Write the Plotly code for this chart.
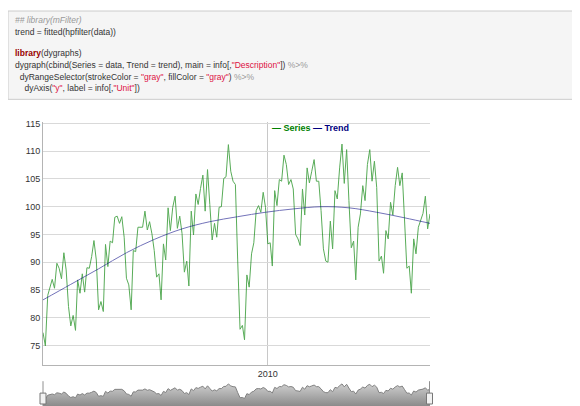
"""
dygraph görünümü: Series + HP trend, altta aralık seçici
"""

import pandas as pd
import plotly.graph_objects as go

# aylık seri (Aralık 2001 - Kasım 2015)
series_start = "2001-12-01"
series_values = [
    77.3, 74.9, 84.0, 85.6, 86.9, 85.3, 89.8, 88.9, 87.0, 91.7, 88.6, 82.0,
    78.5, 80.4, 77.7, 86.8, 84.4, 87.9, 84.6, 89.0, 88.9, 91.0, 93.9, 90.4,
    81.4, 82.9, 81.1, 93.2, 89.2, 93.8, 93.5, 98.1, 98.3, 97.0, 98.2, 94.5,
    87.1, 85.9, 81.4, 92.1, 91.9, 96.3, 96.3,
    96.3, 99.2, 95.8, 97.3, 95.1, 92.1, 87.3, 87.9, 83.2, 93.3, 90.4, 99.8,
    95.7, 99.9, 101.9, 96.1, 98.3, 95.2, 88.2, 90.2, 85.7, 99.2, 94.9, 102.3,
    100.4, 103.3, 105.7, 99.2, 106.7, 100.4, 94.0, 97.0, 94.5, 99.9, 100.0, 105.1,
    105.4, 111.2, 106.4, 104.6, 104.0,
    90.4, 77.9, 78.6, 76.0, 87.7, 85.5, 91.5, 93.5, 99.3, 100.2, 99.0, 102.6,
    99.9, 93.3, 93.5, 89.3, 102.9, 100.2, 104.9, 104.6, 109.3, 107.6, 104.0, 104.9,
    103.2, 95.0, 94.2, 93.0, 103.2, 98.5, 107.0, 104.3, 106.4, 108.5, 104.6, 104.6,
    99.3, 92.4, 90.2, 90.0, 97.4,
    92.4, 102.9, 101.4, 107.0, 111.3, 104.2, 110.3, 101.1, 92.6, 93.8, 86.8, 96.3,
    98.7, 103.8, 101.1, 107.6, 110.3, 104.6, 108.2, 103.5, 90.2, 91.1, 88.0, 95.7,
    94.2, 100.8, 98.5, 103.8, 107.1, 103.8, 106.1, 97.8, 88.9, 89.3, 84.4, 94.2,
    91.5, 96.3, 97.5, 98.8, 101.9, 96.0, 98.7,
]

# HP trend, yıllık okunan noktalar
trend_dates = [
    "2001-12-01", "2002-12-01", "2003-12-01", "2004-12-01", "2005-12-01",
    "2006-12-01", "2007-12-01", "2008-12-01", "2009-12-01", "2010-12-01",
    "2011-12-01", "2012-12-01", "2013-12-01", "2014-12-01", "2015-11-01",
]
trend_values = [
    83.2, 86.0, 88.8, 91.7, 94.1, 96.0, 97.3, 98.2, 99.0, 99.6,
    100.0, 99.8, 99.0, 98.0, 97.0,
]

x_tick_vals = ["2010-01-01"]
x_tick_text = ["2010"]
y_tick_vals = [75, 80, 85, 90, 95, 100, 105, 110, 115]

code_lines = [
    "<i><span style='color:#999999'>## library(mFilter)</span></i>",
    "trend = fitted(hpfilter(data))",
    "<b><span style='color:#990000'>library</span></b>(dygraphs)",
    "dygraph(cbind(Series = data, Trend = trend), main = info[,"
    "<span style='color:#dd1144'>\"Description\"</span>]) "
    "<span style='color:#999999'>%&gt;%</span>",
    "\u00a0\u00a0dyRangeSelector(strokeColor = <span style='color:#dd1144'>\"gray\"</span>, "
    "fillColor = <span style='color:#dd1144'>\"gray\"</span>) "
    "<span style='color:#999999'>%&gt;%</span>",
    "\u00a0\u00a0\u00a0\u00a0dyAxis(<span style='color:#dd1144'>\"y\"</span>, label = info[,"
    "<span style='color:#dd1144'>\"Unit\"</span>])",
]
code_rows = [17, 29, 50, 62, 74, 86]

# sayfa gövdesi 8px kenar boşluğu bırakıyor; konumlar ekran pikseli olarak verilip kaydırılıyor
OFF = 8
W, H = 580 - OFF, 406 - OFF


def px_x(v):
    return (v - OFF) / W


def px_y(v):
    return 1 - (v - OFF) / H


dates = pd.date_range(series_start, periods=len(series_values), freq="MS")

fig = go.Figure()

# ana seri
fig.add_trace(go.Scatter(
    x=dates, y=series_values, mode="lines",
    line=dict(color="rgb(0,128,0)", width=1),
    opacity=0.65, name="Series",
))

# trend
fig.add_trace(go.Scatter(
    x=pd.to_datetime(trend_dates), y=trend_values, mode="lines",
    line=dict(color="rgb(0,0,128)", width=1, shape="spline"),
    opacity=0.55, name="Trend",
))

# aralık seçici (mini grafik)
fig.add_trace(go.Scatter(
    x=dates, y=series_values, mode="lines",
    xaxis="x2", yaxis="y2",
    line=dict(color="#808080", width=1),
    fill="tozeroy",
    fillgradient=dict(
        type="vertical",
        colorscale=[[0, "#8a8a8a"], [1, "#cfcfcf"]],
        start=58, stop=112,
    ),
    hoverinfo="skip",
))

axis_font = dict(family="Liberation Sans, Arial, sans-serif", size=9, color="#333333")

fig.update_layout(
    width=W, height=H,
    margin=dict(l=0, r=0, t=0, b=0),
    paper_bgcolor="white",
    plot_bgcolor="white",
    showlegend=False,
    xaxis=dict(
        domain=[px_x(43), px_x(430)],
        range=[dates[0], dates[-1]],
        tickvals=x_tick_vals, ticktext=x_tick_text,
        showgrid=True, gridcolor="#c8c8c8", gridwidth=1,
        showline=True, linecolor="#b4b4b4", linewidth=1,
        ticks="", tickfont=axis_font,
        zeroline=False, anchor="y",
    ),
    yaxis=dict(
        domain=[px_y(365), px_y(120)],
        range=[71.4, 115.25],
        tickvals=y_tick_vals,
        showgrid=True, gridcolor="#d9d9d9", gridwidth=1,
        showline=True, linecolor="#b4b4b4", linewidth=1,
        ticks="", tickfont=axis_font,
        zeroline=False, anchor="x",
    ),
    xaxis2=dict(
        domain=[px_x(43), px_x(430)],
        range=[dates[0], dates[-1]],
        showticklabels=False, showgrid=False, zeroline=False,
        anchor="y2",
    ),
    yaxis2=dict(
        domain=[0, px_y(378)],
        range=[58, 125],
        showticklabels=False, showgrid=False, zeroline=False,
        anchor="x2",
    ),
)

# kod bloğu kutusu
fig.add_shape(
    type="rect", xref="paper", yref="paper",
    x0=0, x1=px_x(577), y0=px_y(97), y1=1,
    fillcolor="#f5f5f5", line=dict(color="#cccccc", width=1),
    layer="below",
)
for line, row in zip(code_lines, code_rows):
    fig.add_annotation(
        text=line, xref="paper", yref="paper",
        x=px_x(13), y=px_y(row), xanchor="left", yanchor="middle",
        showarrow=False,
        font=dict(family="Liberation Sans, Arial, sans-serif", size=8.5, color="#333333"),
    )

# lejant
fig.add_annotation(
    text="<b><span style='color:#008000'>— Series</span> "
         "<span style='color:#000080'>— Trend</span></b>",
    xref="paper", yref="paper", x=px_x(270), y=px_y(126),
    xanchor="left", yanchor="middle", showarrow=False,
    font=dict(family="Liberation Sans, Arial, sans-serif", size=9),
)

# aralık seçici çerçeve ve tutamaçlar
for xp in (43, 429.5):
    fig.add_shape(
        type="line", xref="paper", yref="paper",
        x0=px_x(xp), x1=px_x(xp), y0=0, y1=px_y(381),
        line=dict(color="#909090", width=1),
    )
    fig.add_shape(
        type="rect", xref="paper", yref="paper",
        x0=px_x(xp - 3), x1=px_x(xp + 3), y0=px_y(404), y1=px_y(393),
        fillcolor="#f2f2f2", line=dict(color="#777777", width=1),
    )

fig.write_html("out.html")
